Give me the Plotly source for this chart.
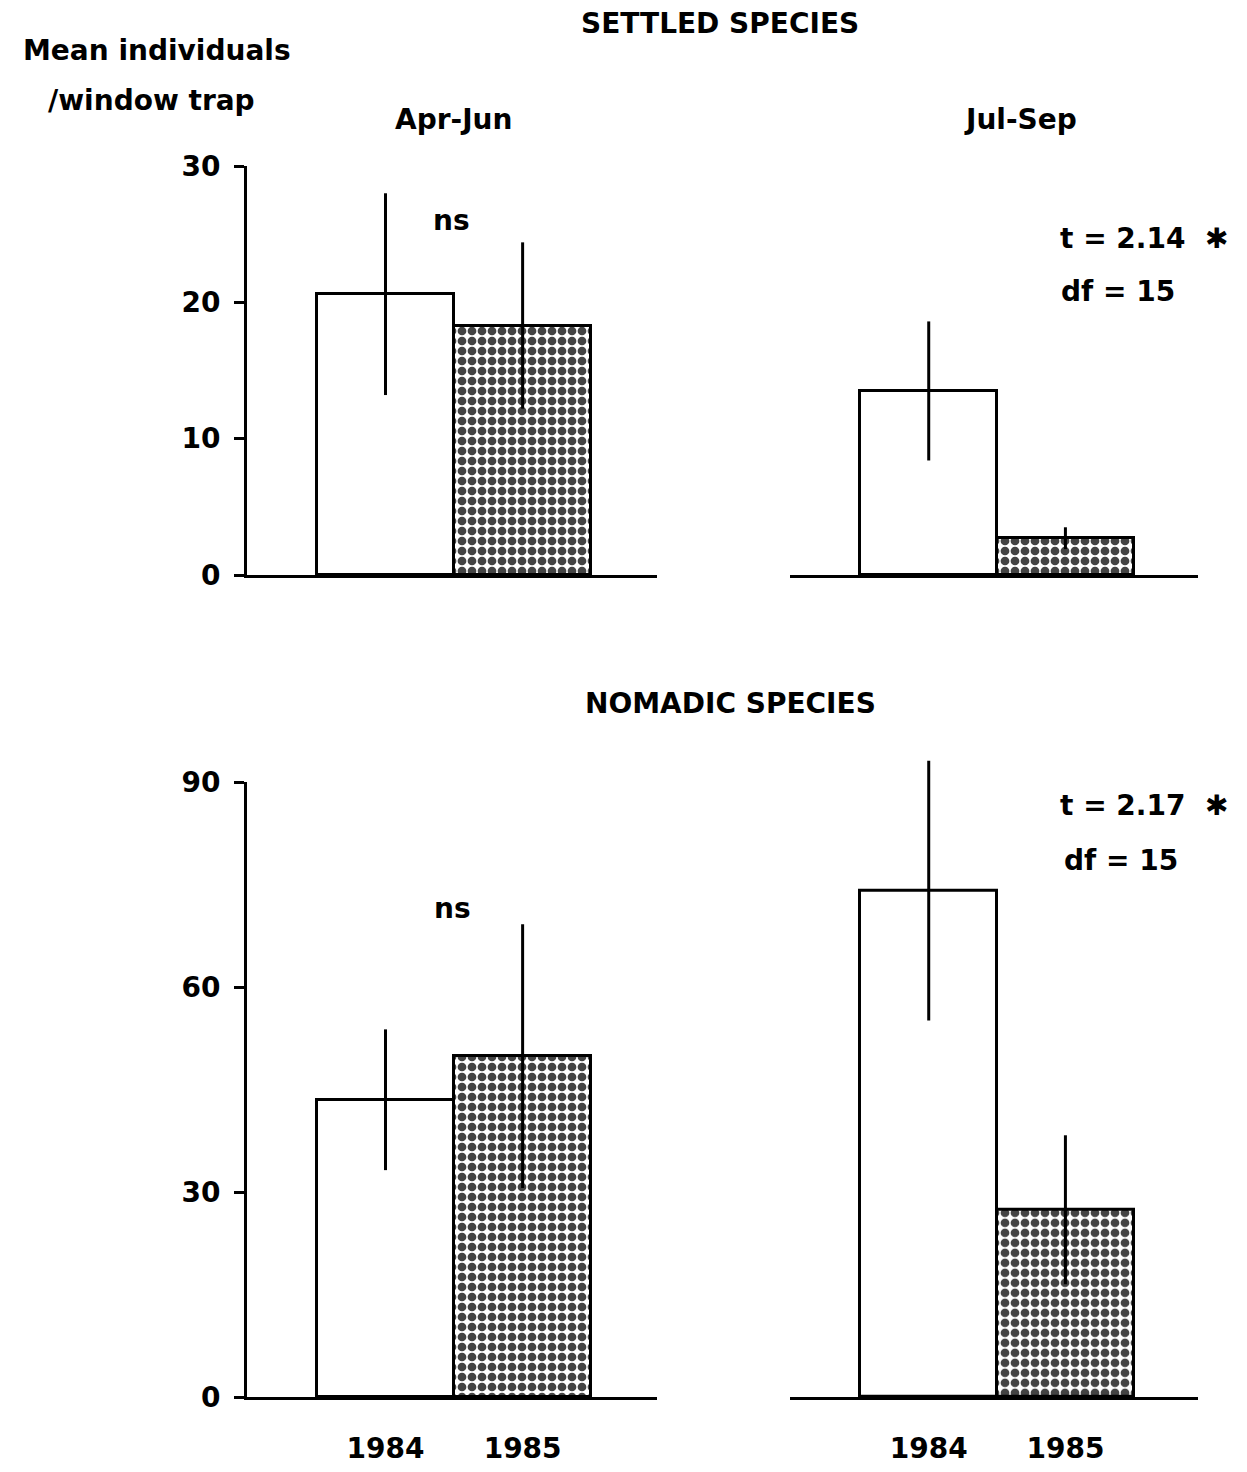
import plotly.graph_objects as go

# ---------------- data ----------------
years = ["1984", "1985"]
x_pos = [0, 1]

settled_aprjun_mean = [20.6, 18.3]
settled_aprjun_se = [7.4, 6.1]
settled_julsep_mean = [13.5, 2.7]
settled_julsep_se = [5.1, 0.8]

nomadic_aprjun_mean = [43.5, 49.9]
nomadic_aprjun_se = [10.3, 19.3]
nomadic_julsep_mean = [74.1, 27.4]
nomadic_julsep_se = [19.0, 10.9]

settled_ticks = [0, 10, 20, 30]
nomadic_ticks = [0, 30, 60, 90]

# ---------------- style ----------------
PAGE_W, PAGE_H = 1247, 1472
XOFF, YOFF = 8, 8  # default body margin of the html page
W, H = PAGE_W - 2 * XOFF, PAGE_H - 2 * YOFF
FONT = "DejaVu Sans, Liberation Sans, Arial"
FS = 28


def px(xp):
    return (xp - XOFF) / W


def py(yp):
    return 1 - (yp - YOFF) / H


def bars(x, y, err, xa, ya):
    return go.Bar(
        x=x, y=y, width=1.0, xaxis=xa, yaxis=ya,
        marker=dict(
            color=["white", "white"],
            line=dict(color="black", width=3),
            pattern=dict(shape=["", "."], fgcolor="black", bgcolor="white",
                         fgopacity=1, size=10, solidity=0.6,
                         fillmode="overlay"),
        ),
        error_y=dict(type="data", array=err, visible=True, color="black",
                     thickness=3, width=0),
        showlegend=False, hoverinfo="skip",
    )


fig = go.Figure()
fig.add_trace(bars(x_pos, settled_aprjun_mean, settled_aprjun_se, "x", "y"))
fig.add_trace(bars(x_pos, settled_julsep_mean, settled_julsep_se, "x2", "y2"))
fig.add_trace(bars(x_pos, nomadic_aprjun_mean, nomadic_aprjun_se, "x3", "y3"))
fig.add_trace(bars(x_pos, nomadic_julsep_mean, nomadic_julsep_se, "x4", "y4"))

left_dom = [px(247), px(657)]
right_dom = [px(790), px(1198)]
top_dom = [py(575), py(166)]
bot_dom = [py(1397), py(782)]
# right bottom panel has no visible y axis; extend range so error bar isn't clipped
bot_right_dom = [py(1397), py(1397 - 95 * (1397 - 782) / 90)]

xrange_left = [-1.01, 1.98]
xrange_right = [-1.015, 1.97]

base_x = dict(showline=True, linecolor="black", linewidth=3, showgrid=False,
              zeroline=False, ticks="", tickvals=x_pos, ticktext=years,
              automargin=False,
              tickfont=dict(family=FONT, size=FS, color="black", weight="bold"),
              fixedrange=True)

axis_y = dict(showline=True, linecolor="black", linewidth=3, showgrid=False,
              zeroline=False, ticks="outside", ticklen=10, tickwidth=3,
              tickcolor="black", ticklabelstandoff=8, automargin=False,
              tickfont=dict(family=FONT, size=FS, color="black", weight="bold"))

fig.update_layout(
    template="none",
    width=W, height=H,
    margin=dict(l=0, r=0, t=0, b=0, pad=0),
    paper_bgcolor="white", plot_bgcolor="rgba(0,0,0,0)",
    bargap=0,
    xaxis=dict(base_x, domain=left_dom, range=xrange_left, anchor="y",
               showticklabels=False),
    yaxis=dict(axis_y, domain=top_dom, range=[0, 30], tickvals=settled_ticks,
               anchor="x"),
    xaxis2=dict(base_x, domain=right_dom, range=xrange_right, anchor="y2",
                showticklabels=False),
    yaxis2=dict(domain=top_dom, range=[0, 30], anchor="x2", visible=False,
                automargin=False),
    xaxis3=dict(base_x, domain=left_dom, range=xrange_left, anchor="y3",
                showticklabels=True, ticklabelstandoff=24),
    yaxis3=dict(axis_y, domain=bot_dom, range=[0, 90], tickvals=nomadic_ticks,
                anchor="x3"),
    xaxis4=dict(base_x, domain=right_dom, range=xrange_right, anchor="y4",
                showticklabels=True, ticklabelstandoff=24),
    yaxis4=dict(domain=bot_right_dom, range=[0, 95], anchor="x4", visible=False,
                automargin=False),
)


def note(text, xp, yp, anchor="center", size=FS):
    fig.add_annotation(
        text=text, x=px(xp), y=py(yp), xref="paper", yref="paper",
        xanchor=anchor, yanchor="middle", showarrow=False,
        font=dict(family=FONT, size=size, color="black", weight="bold"),
    )


note("SETTLED SPECIES", 720, 24)
note("Mean individuals", 157, 50)
note("/window trap", 151, 100)
note("Apr-Jun", 453, 120)
note("Jul-Sep", 1020, 120)
note("ns", 451, 220)
note("t = 2.14  ✱", 1058, 238, anchor="left")
note("df = 15", 1059, 292, anchor="left")
note("NOMADIC SPECIES", 730, 703)
note("ns", 452, 908)
note("t = 2.17  ✱", 1058, 805, anchor="left")
note("df = 15", 1062, 860, anchor="left")

fig.write_html("out.html")
